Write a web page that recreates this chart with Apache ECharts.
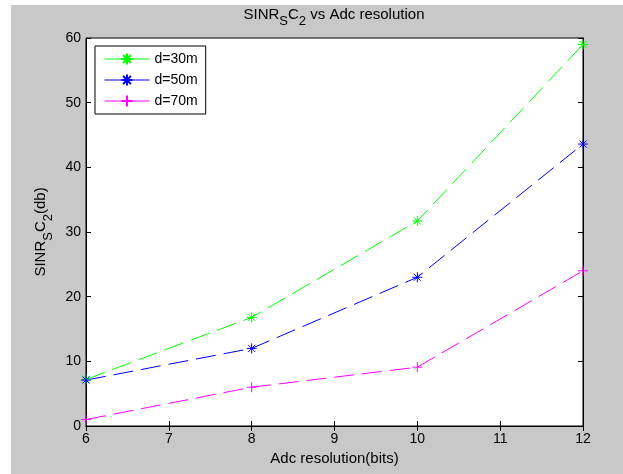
<!DOCTYPE html>
<html>
<head>
<meta charset="utf-8">
<script src="https://cdn.jsdelivr.net/npm/echarts@6/dist/echarts.min.js"></script>
<style>html,body{margin:0;padding:0;background:#fff}#c{width:623px;height:474px}</style>
</head>
<body>
<div id="c"></div>
<script>
var xValues = [6, 8, 10, 12];
var seriesNames = ['d=30m', 'd=50m', 'd=70m'];
var d30 = [7.2, 16.8, 31.7, 59.0];
var d50 = [7.1, 12.0, 23.0, 43.6];
var d70 = [1.0, 6.0, 9.1, 24.0];
var seriesColors = ['#00ff00', '#0000ff', '#ff00ff'];
var xTicks = [6, 7, 8, 9, 10, 11, 12];
var yTicks = [0, 10, 20, 30, 40, 50, 60];

var FONT = 'Liberation Sans';
var star = 'path://M0,-5L0,5M-5,0L5,0M-3.5,-3.5L3.5,3.5M-3.5,3.5L3.5,-3.5';
var plus = 'path://M0,-5L0,5M-5,0L5,0';
var symbols = [star, star, plus];
var allData = [d30, d50, d70];

var chart = echarts.init(document.getElementById('c'), null, {renderer: 'canvas'});

var series = allData.map(function (vals, i) {
  return {
    name: seriesNames[i],
    type: 'line',
    data: xValues.map(function (x, k) { return [x, vals[k]]; }),
    symbol: symbols[i],
    symbolSize: 10,
    showAllSymbol: true,
    lineStyle: {color: seriesColors[i], width: 1, type: [20, 8]},
    itemStyle: {color: seriesColors[i], borderColor: seriesColors[i], borderWidth: 1},
    emphasis: {disabled: true},
    animation: false
  };
});

var baseAxis = {
  axisLine: {show: true, lineStyle: {color: '#000', width: 1}},
  axisTick: {show: true, inside: true, length: 5, lineStyle: {color: '#000'}},
  splitLine: {show: false}
};

var rich = {
  a: {fontFamily: FONT, fontSize: 15, fontWeight: 'normal', color: '#000', verticalAlign: 'top', lineHeight: 16},
  s: {fontFamily: FONT, fontSize: 13, fontWeight: 'normal', color: '#000', verticalAlign: 'bottom', lineHeight: 21}
};

chart.setOption({
  backgroundColor: '#fff',
  animation: false,
  graphic: [{
    type: 'rect', z: -10, silent: true,
    shape: {x: 11, y: 5, width: 623 - 11, height: 474 - 5},
    style: {fill: '#c8c8c8'}
  }],
  title: {
    text: '{a|SINR}{s|S}{a|C}{s|2}{a| vs Adc resolution}',
    left: 334, top: 7, textAlign: 'center', padding: 0,
    textStyle: {rich: rich, fontWeight: 'normal'}
  },
  grid: {left: 86, top: 38, width: 497, height: 388, show: true, backgroundColor: '#fff', borderColor: '#000', borderWidth: 1},
  legend: {
    data: seriesNames,
    orient: 'vertical',
    left: 95, top: 46,
    padding: [6, 8, 6, 9],
    itemGap: 7, itemWidth: 45, itemHeight: 14, itemTextGap: 7,
    backgroundColor: '#fff', borderColor: '#000', borderWidth: 1, borderRadius: 0,
    textStyle: {fontFamily: FONT, fontSize: 14, color: '#000'},
    lineStyle: {type: 'solid', width: 1},
    selectedMode: false
  },
  xAxis: [
    Object.assign({}, baseAxis, {
      type: 'value', min: xTicks[0], max: xTicks[xTicks.length - 1], interval: 1, position: 'bottom',
      axisLabel: {fontFamily: FONT, fontSize: 14, color: '#000', margin: 6},
      name: 'Adc resolution(bits)', nameLocation: 'middle', nameGap: 25,
      nameTextStyle: {fontFamily: FONT, fontSize: 15, color: '#000'}
    }),
    Object.assign({}, baseAxis, {
      type: 'value', min: xTicks[0], max: xTicks[xTicks.length - 1], interval: 1, position: 'top',
      axisLabel: {show: false}
    })
  ],
  yAxis: [
    Object.assign({}, baseAxis, {
      type: 'value', min: yTicks[0], max: yTicks[yTicks.length - 1], interval: 10, position: 'left',
      axisLabel: {fontFamily: FONT, fontSize: 14, color: '#000', margin: 5},
      name: '{a|SINR}{s|S}{a|C}{s|2}{a|(db)}', nameLocation: 'middle', nameGap: 30, nameRotate: 90,
      nameTextStyle: {rich: rich}
    }),
    Object.assign({}, baseAxis, {
      type: 'value', min: yTicks[0], max: yTicks[yTicks.length - 1], interval: 10, position: 'right',
      axisLabel: {show: false}
    })
  ],
  series: series
});
</script>
</body>
</html>
